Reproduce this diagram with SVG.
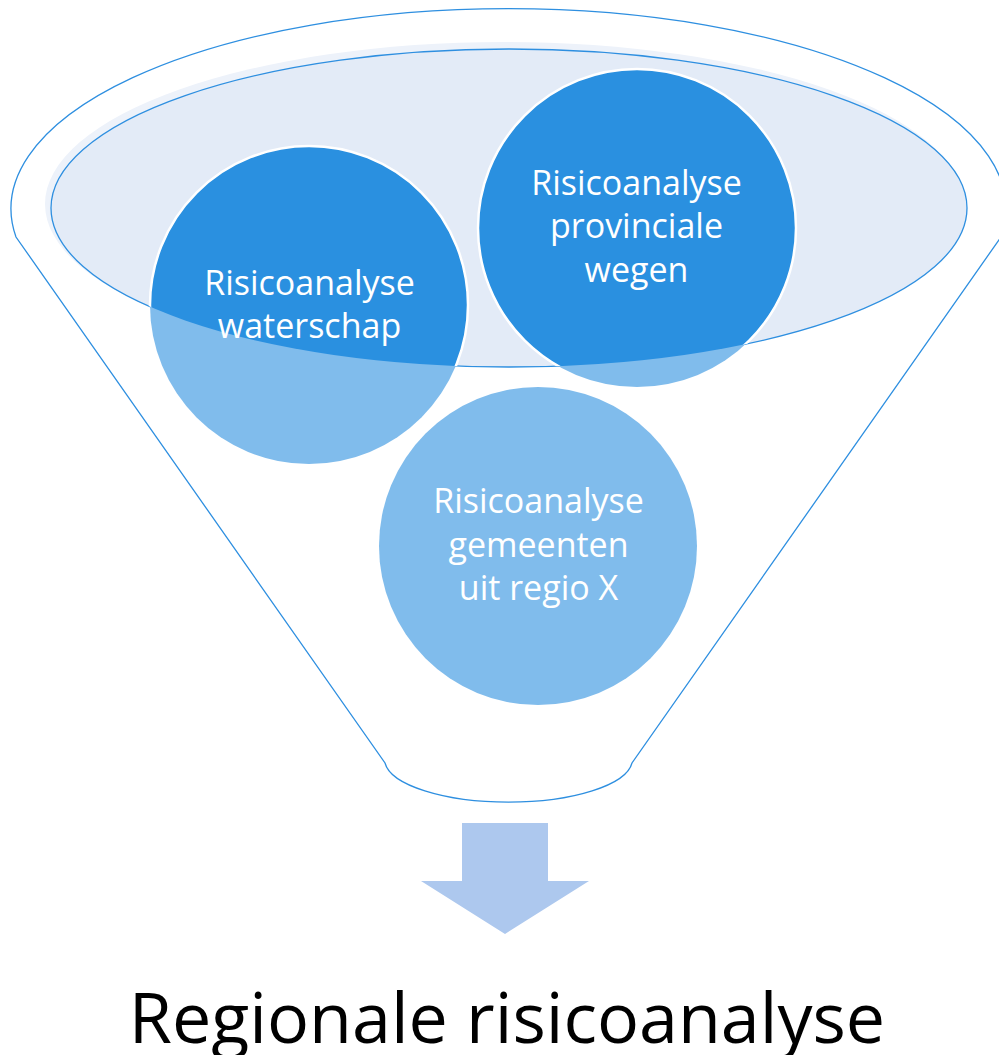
<svg xmlns="http://www.w3.org/2000/svg" width="999" height="1055" viewBox="0 0 999 1055">
  <style>
    .outline { fill: none; stroke: #2E8FE0; stroke-width: 1.3; }
    .light { fill: #80BCEC; }
    .dark { fill: #2A90E0; stroke: #FFFFFF; stroke-width: 2.5; }
    .lbl { font-family: "Open Sans", "Liberation Sans", sans-serif; font-size: 34px; fill: #FFFFFF; text-anchor: middle; }
    .title { font-family: "Open Sans", "Liberation Sans", sans-serif; font-size: 70px; fill: #000000; text-anchor: middle; }
  </style>
  <defs>
    <clipPath id="mouth">
      <ellipse cx="509" cy="208" rx="458" ry="159"/>
    </clipPath>
  </defs>
  <rect width="999" height="1055" fill="#FFFFFF"/>

  <g id="funnel">
    <path class="outline" d="M 16 237 A 497.5 200 0 1 1 1001 237 L 632 763 A 124 43 0 0 1 385 763 Z"/>
    <ellipse cx="504" cy="204" rx="459" ry="162" fill="#EDF2FA"/>
    <ellipse cx="509" cy="208" rx="458" ry="159" fill="#E3EBF7" stroke="#2E8FE0" stroke-width="1.3"/>
  </g>

  <g id="node-waterschap">
    <circle class="light" cx="309" cy="305" r="159"/>
    <circle class="dark" cx="309" cy="305" r="159" clip-path="url(#mouth)"/>
    <text class="lbl" x="309.5" y="295">Risicoanalyse</text>
    <text class="lbl" x="309.5" y="338">waterschap</text>
  </g>

  <g id="node-provinciale-wegen">
    <circle class="light" cx="637" cy="228" r="159"/>
    <circle class="dark" cx="637" cy="228" r="159" clip-path="url(#mouth)"/>
    <text class="lbl" x="636.5" y="195">Risicoanalyse</text>
    <text class="lbl" x="636.5" y="238">provinciale</text>
    <text class="lbl" x="636.5" y="282">wegen</text>
  </g>

  <g id="node-gemeenten">
    <circle class="light" cx="538" cy="546" r="159"/>
    <text class="lbl" x="538.5" y="513">Risicoanalyse</text>
    <text class="lbl" x="538.5" y="557">gemeenten</text>
    <text class="lbl" x="538.5" y="600">uit regio X</text>
  </g>

  <g id="connectors">
    <polygon points="462,823 548,823 548,881 589,881 505,934 421,881 462,881" fill="#ADC8EE"/>
  </g>

  <g id="node-result">
    <text class="title" x="507" y="1043">Regionale risicoanalyse</text>
  </g>
</svg>
